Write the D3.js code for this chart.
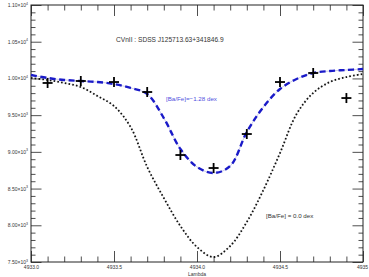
<!DOCTYPE html>
<html>
<head>
<meta charset="utf-8">
<script src="https://cdn.jsdelivr.net/npm/d3@7"></script>
<style>
  body { margin: 0; background: #fff; }
  text { font-family: "Liberation Sans", Arial, sans-serif; }
</style>
</head>
<body>
<svg id="chart" width="369" height="277"></svg>
<script>
// synthetic spectra grid
var lambda = [4933.0, 4933.1, 4933.2, 4933.3, 4933.4, 4933.5, 4933.6, 4933.7, 4933.8, 4933.9,
              4934.0, 4934.1, 4934.2, 4934.3, 4934.4, 4934.5, 4934.6, 4934.7, 4934.8, 4934.9, 4935.0];
// [Ba/Fe]=-1.28 dex (blue dashed)
var fluxLow = [10047, 10006, 9979, 9965, 9951, 9924, 9870, 9788, 9461, 9039,
               8794, 8712, 8807, 9270, 9611, 9856, 9992, 10074, 10101, 10115, 10128];
// [Ba/Fe] = 0.0 dex (black dotted)
var fluxSolar = [10006, 9979, 9938, 9883, 9761, 9624, 9338, 8794, 8372, 7990,
                 7704, 7568, 7718, 8045, 8480, 8984, 9516, 9802, 9951, 10019, 10060];
// observed points
var obsLambda = [4933.1, 4933.3, 4933.5, 4933.7, 4933.9, 4934.1, 4934.3, 4934.5, 4934.7, 4934.9];
var obsFlux = [9938, 9965, 9951, 9815, 8957, 8780, 9243, 9951, 10074, 9733];
// axis ticks
var xMajor = [4933.0, 4933.5, 4934.0, 4934.5, 4935.0];
var xLabels = ['4933.0', '4933.5', '4934.0', '4934.5', '4935'];
var yMajor = [7500, 8000, 8500, 9000, 9500, 10000, 10500, 11000];

var svg = d3.select('#chart');
var margin = { top: 5, right: 6, bottom: 15, left: 31 },
    width = 369 - margin.left - margin.right,
    height = 277 - margin.top - margin.bottom;

var x = d3.scaleLinear().domain([4933, 4935]).range([0, width]);
var y = d3.scaleLinear().domain([7500, 11000]).range([height, 0]);

var g = svg.append('g').attr('transform', `translate(${margin.left},${margin.top})`);

var xMinor = d3.range(0, 21).filter(i => i % 5 != 0).map(i => 4933 + i * 0.1);
var yMinor = d3.range(7500, 11001, 100).filter(v => v % 500 != 0);

function yFmt(v) {
    var e = Math.floor(Math.log10(v));
    return [(v / Math.pow(10, e)).toFixed(2) + '\u00d710', e];
}

// bottom axis
var xb = g.append('g').attr('transform', `translate(0,${height})`)
    .call(d3.axisBottom(x).tickValues(xMajor).tickSize(-11).tickPadding(3)
        .tickFormat((d, i) => xLabels[i]));
g.append('g').attr('transform', `translate(0,${height})`)
    .call(d3.axisBottom(x).tickValues(xMinor).tickSize(-5.5).tickFormat(''));
// top axis
g.append('g').call(d3.axisTop(x).tickValues(xMajor).tickSize(-11).tickFormat(''));
g.append('g').call(d3.axisTop(x).tickValues(xMinor).tickSize(-5.5).tickFormat(''));
// left axis
g.append('g').call(d3.axisLeft(y).tickValues(yMajor).tickSize(-10.5).tickFormat(''));
g.append('g').call(d3.axisLeft(y).tickValues(yMinor).tickSize(-4.5).tickFormat(''));
// right axis
g.append('g').attr('transform', `translate(${width},0)`)
    .call(d3.axisRight(y).tickValues(yMajor).tickSize(-10.5).tickFormat(''));
g.append('g').attr('transform', `translate(${width},0)`)
    .call(d3.axisRight(y).tickValues(yMinor).tickSize(-4.5).tickFormat(''));

g.selectAll('.domain').remove();
g.selectAll('.tick line').attr('stroke', '#222').attr('stroke-width', 0.8);
xb.selectAll('text').attr('font-size', 5).attr('fill', '#333').attr('font-family', '"Liberation Sans", Arial, sans-serif');
xb.selectAll('.tick:last-child text').attr('dx', -1);

// y labels with exponent
yMajor.forEach(v => {
    var f = yFmt(v);
    var t = g.append('text')
        .attr('x', -3).attr('y', y(v) + 2)
        .attr('text-anchor', 'end')
        .attr('font-size', 5).attr('fill', '#333');
    t.append('tspan').text(f[0]);
    t.append('tspan').attr('dy', -2.5).attr('font-size', 3.5).text(f[1]);
});

// frame
g.append('rect').attr('width', width).attr('height', height)
    .attr('fill', 'none').attr('stroke', '#222').attr('stroke-width', 1);

var line = d3.line().x((d, i) => x(lambda[i])).y(d => y(d)).curve(d3.curveCatmullRom);

// [Ba/Fe]=0.0 dotted
g.append('path').attr('d', line(fluxSolar))
    .attr('fill', 'none').attr('stroke', '#ccc').attr('stroke-width', 0.4);
g.append('path').attr('d', line(fluxSolar))
    .attr('fill', 'none').attr('stroke', '#111').attr('stroke-width', 1.8)
    .attr('stroke-dasharray', '1.6,2.2');

// [Ba/Fe]=-1.28 dashed
g.append('path').attr('d', line(fluxLow))
    .attr('fill', 'none').attr('stroke', '#a8a8d8').attr('stroke-width', 0.6);
g.append('path').attr('d', line(fluxLow))
    .attr('fill', 'none').attr('stroke', '#1a1ac8').attr('stroke-width', 2.4)
    .attr('stroke-dasharray', '6,3.5');

// observed crosses
var s = 5;
var obs = g.selectAll('g.obs').data(obsLambda).enter().append('g')
    .attr('class', 'obs')
    .attr('transform', (d, i) => `translate(${x(d)},${y(obsFlux[i])})`);
obs.append('line').attr('x1', -s).attr('x2', s).attr('stroke', '#000').attr('stroke-width', 1.8);
obs.append('line').attr('y1', -s).attr('y2', s).attr('stroke', '#000').attr('stroke-width', 1.8);

// texts
svg.append('text').attr('x', 116).attr('y', 41.5).attr('font-size', 6.6).attr('fill', '#333')
    .text('CVnII : SDSS J125713.63+341846.9');
svg.append('text').attr('x', 166).attr('y', 101).attr('font-size', 6.2).attr('fill', '#5050e0')
    .text('[Ba/Fe]=\u22121.28 dex');
svg.append('text').attr('x', 266).attr('y', 218).attr('font-size', 6.2).attr('fill', '#333')
    .text('[Ba/Fe] = 0.0 dex');
svg.append('text').attr('x', margin.left + width / 2).attr('y', 276).attr('text-anchor', 'middle')
    .attr('font-size', 5).attr('fill', '#333').text('Lambda');
</script>
</body>
</html>
